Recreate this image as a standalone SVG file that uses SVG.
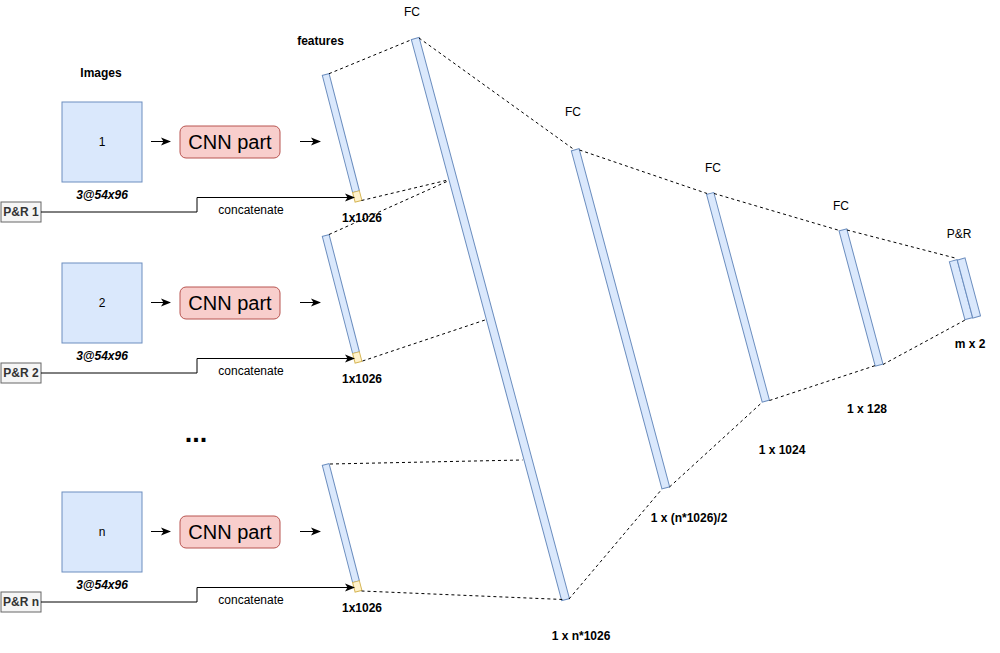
<svg xmlns="http://www.w3.org/2000/svg" width="1000" height="653" viewBox="0 0 1000 653">
<style>
text{font-family:"Liberation Sans",Arial,sans-serif;fill:#000}
.lbl{font-size:12px;text-anchor:middle}
.b{font-weight:bold}
.bi{font-weight:bold;font-style:italic}
.img{fill:#dae8fc;stroke:#6c8ebf;stroke-width:1}
.bar{fill:#dae8fc;stroke:#6c8ebf;stroke-width:1}
.yel{fill:#fff2cc;stroke:#d6b656;stroke-width:1}
.cnn{fill:#f8cecc;stroke:#b85450;stroke-width:1}
.cnnt{font-size:20px;text-anchor:middle}
.pr{fill:#f5f5f5;stroke:#666666;stroke-width:1}
.prt{font-size:12px;font-weight:bold;text-anchor:middle;fill:#333333}
.arr{fill:none;stroke:#000;stroke-width:1;marker-end:url(#ah)}
.dash{fill:none;stroke:#000;stroke-width:1;stroke-dasharray:3 3}
</style>
<defs>
<marker id="ah" viewBox="0 0 10 10" refX="9" refY="5" markerWidth="10" markerHeight="10" markerUnits="userSpaceOnUse" orient="auto">
<path d="M0,1 L10,5 L0,9 L2.5,5 Z" fill="#000"/>
</marker>
</defs>
<rect width="1000" height="653" fill="#fff"/>

<text class="lbl b" x="101" y="77">Images</text>
<text class="lbl b" x="320.5" y="45">features</text>

<g id="image1">
<rect class="img" x="62" y="102" width="80" height="80"/>
<text class="lbl" x="102" y="146">1</text>
<text class="lbl bi" x="102" y="199">3@54x96</text>
</g>
<g id="image2">
<rect class="img" x="62" y="263" width="80" height="80"/>
<text class="lbl" x="102" y="307">2</text>
<text class="lbl bi" x="102" y="360">3@54x96</text>
</g>
<text id="dots" x="196" y="442" style="font-size:27px;font-weight:bold;text-anchor:middle">...</text>
<g id="imagen">
<rect class="img" x="62" y="492" width="80" height="80"/>
<text class="lbl" x="102" y="536">n</text>
<text class="lbl bi" x="102" y="589">3@54x96</text>
</g>

<g id="cnn1"><rect class="cnn" x="180" y="126" width="100" height="32" rx="6"/><text class="cnnt" x="230" y="149">CNN part</text></g>
<g id="cnn2"><rect class="cnn" x="180" y="287" width="100" height="32" rx="6"/><text class="cnnt" x="230" y="310">CNN part</text></g>
<g id="cnnn"><rect class="cnn" x="180" y="516" width="100" height="32" rx="6"/><text class="cnnt" x="230" y="539">CNN part</text></g>

<g id="pr1"><rect class="pr" x="1" y="202" width="40" height="20"/><text class="prt" x="21" y="216">P&amp;R 1</text></g>
<g id="pr2"><rect class="pr" x="1" y="363" width="40" height="20"/><text class="prt" x="21" y="377">P&amp;R 2</text></g>
<g id="prn"><rect class="pr" x="1" y="592" width="40" height="20"/><text class="prt" x="21" y="606">P&amp;R n</text></g>

<g id="feat1" transform="translate(342.1,137.9) rotate(-14.5)">
<rect class="bar" x="-3.5" y="-65.5" width="7" height="121"/>
<rect class="yel" x="-3.5" y="55.5" width="7" height="10"/>
</g>
<g id="feat2" transform="translate(342.1,298.9) rotate(-14.5)">
<rect class="bar" x="-3.5" y="-65.5" width="7" height="121"/>
<rect class="yel" x="-3.5" y="55.5" width="7" height="10"/>
</g>
<g id="featn" transform="translate(342.1,527.9) rotate(-14.5)">
<rect class="bar" x="-3.5" y="-65.5" width="7" height="121"/>
<rect class="yel" x="-3.5" y="55.5" width="7" height="10"/>
</g>
<text class="lbl b" x="362" y="222">1x1026</text>
<text class="lbl b" x="362" y="383">1x1026</text>
<text class="lbl b" x="362" y="612">1x1026</text>

<g id="fc1">
<rect class="bar" transform="translate(490.4,319.1) rotate(-15)" x="-4" y="-290.5" width="8" height="581"/>
<text class="lbl" x="412" y="16">FC</text>
<text class="lbl b" x="581" y="640">1 x n*1026</text>
</g>
<g id="fc2">
<rect class="bar" transform="translate(620.5,318.8) rotate(-15)" x="-4" y="-175" width="8" height="350"/>
<text class="lbl" x="573" y="116">FC</text>
<text class="lbl b" x="689" y="522">1 x (n*1026)/2</text>
</g>
<g id="fc3">
<rect class="bar" transform="translate(738,297.3) rotate(-15)" x="-3.75" y="-107.5" width="7.5" height="215"/>
<text class="lbl" x="713" y="172">FC</text>
<text class="lbl b" x="782" y="454">1 x 1024</text>
</g>
<g id="fc4">
<rect class="bar" transform="translate(861,297.5) rotate(-15)" x="-4" y="-70" width="8" height="140"/>
<text class="lbl" x="841" y="210">FC</text>
<text class="lbl b" x="867" y="413">1 x 128</text>
</g>
<g id="out">
<rect class="bar" transform="translate(961,289.7) rotate(-15)" x="-4" y="-30" width="8" height="60"/>
<rect class="bar" transform="translate(968.9,288) rotate(-15)" x="-4" y="-30" width="8" height="60"/>
<text class="lbl" x="959" y="238">P&amp;R</text>
<text class="lbl b" x="970" y="348">m x 2</text>
</g>

<g id="connectors">
<path class="arr" d="M151,141.5 H170"/>
<path class="arr" d="M300,141.5 H320"/>
<path class="arr" d="M151,302.5 H170"/>
<path class="arr" d="M300,302.5 H320"/>
<path class="arr" d="M151,531.5 H170"/>
<path class="arr" d="M300,531.5 H320"/>
<path class="arr" d="M41,212 H197 V197.5 H354"/>
<path class="arr" d="M41,373 H197 V358.5 H354"/>
<path class="arr" d="M41,602 H197 V587.5 H354"/>
<text class="lbl" x="251" y="214">concatenate</text>
<text class="lbl" x="251" y="375">concatenate</text>
<text class="lbl" x="251" y="604">concatenate</text>
<path class="dash" d="M329,73.7 L412,39.5"/>
<path class="dash" d="M361.5,200.5 L448,180"/>
<path class="dash" d="M329,234.5 L448,181"/>
<path class="dash" d="M362.5,361 L485,320"/>
<path class="dash" d="M330,464 L522.5,460"/>
<path class="dash" d="M361.5,591 L563,599.5"/>
<path class="dash" d="M419,38 L574,149.5"/>
<path class="dash" d="M579.5,150 L707,193.5"/>
<path class="dash" d="M714,193.5 L839.5,230.5"/>
<path class="dash" d="M847,230 L957,258.5"/>
<path class="dash" d="M569,599 L662,489"/>
<path class="dash" d="M669.5,487 L762.5,402"/>
<path class="dash" d="M769.5,400.5 L875.5,365.5"/>
<path class="dash" d="M883,364.5 L967,319"/>
</g>
</svg>
